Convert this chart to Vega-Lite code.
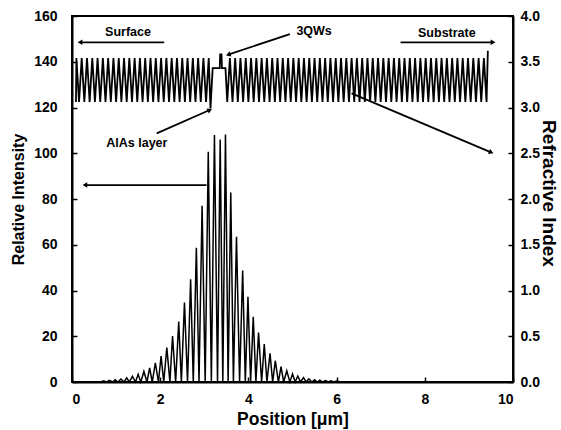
{
  "$schema": "https://vega.github.io/schema/vega-lite/v6.json",
  "width": 441,
  "height": 366,
  "autosize": {"type": "none"},
  "padding": {"left": 72, "top": 16, "right": 48, "bottom": 48},
  "background": "white",
  "config": {
    "view": {"stroke": "black", "strokeWidth": 2},
    "font": "Liberation Sans",
    "axis": {
      "grid": false,
      "domainColor": "black",
      "domainWidth": 2,
      "tickColor": "black",
      "tickWidth": 1.5,
      "tickSize": -5,
      "labelFont": "Liberation Sans",
      "labelFontWeight": "bold",
      "labelFontSize": 14,
      "labelColor": "black",
      "titleFont": "Liberation Sans",
      "titleFontWeight": "bold",
      "titleFontSize": 15.5,
      "titleColor": "black"
    }
  },
  "datasets": {
    "intensity": [
      {"x": 0, "I": 0}, {"x": 0.65, "I": 0},
      {"x": 0.72, "I": 0.5}, {"x": 0.78, "I": 0}, {"x": 0.85, "I": 0.7}, {"x": 0.92, "I": 0},
      {"x": 0.98, "I": 1.0}, {"x": 1.04, "I": 0}, {"x": 1.11, "I": 1.3}, {"x": 1.18, "I": 0},
      {"x": 1.24, "I": 1.8}, {"x": 1.30, "I": 0}, {"x": 1.37, "I": 2.5}, {"x": 1.44, "I": 0},
      {"x": 1.50, "I": 3.4}, {"x": 1.56, "I": 0}, {"x": 1.63, "I": 4.6}, {"x": 1.70, "I": 0},
      {"x": 1.76, "I": 6.2}, {"x": 1.82, "I": 0}, {"x": 1.89, "I": 8.4}, {"x": 1.96, "I": 0},
      {"x": 2.02, "I": 11.3}, {"x": 2.08, "I": 0}, {"x": 2.15, "I": 15.0}, {"x": 2.22, "I": 0},
      {"x": 2.28, "I": 20.1}, {"x": 2.35, "I": 0}, {"x": 2.42, "I": 26.4}, {"x": 2.48, "I": 0},
      {"x": 2.55, "I": 34.7}, {"x": 2.62, "I": 0}, {"x": 2.69, "I": 44.9}, {"x": 2.75, "I": 0},
      {"x": 2.82, "I": 58.7}, {"x": 2.88, "I": 0}, {"x": 2.95, "I": 77.0}, {"x": 3.02, "I": 0},
      {"x": 3.09, "I": 100.7}, {"x": 3.16, "I": 0}, {"x": 3.23, "I": 108.0}, {"x": 3.30, "I": 0},
      {"x": 3.36, "I": 106.0}, {"x": 3.42, "I": 0}, {"x": 3.48, "I": 108.2}, {"x": 3.54, "I": 0},
      {"x": 3.60, "I": 82.8}, {"x": 3.66, "I": 0}, {"x": 3.73, "I": 63.5}, {"x": 3.80, "I": 0},
      {"x": 3.87, "I": 48.7}, {"x": 3.93, "I": 0}, {"x": 3.99, "I": 37.3}, {"x": 4.05, "I": 0},
      {"x": 4.11, "I": 28.5}, {"x": 4.17, "I": 0}, {"x": 4.23, "I": 21.6}, {"x": 4.30, "I": 0},
      {"x": 4.36, "I": 16.6}, {"x": 4.42, "I": 0}, {"x": 4.49, "I": 12.5}, {"x": 4.55, "I": 0},
      {"x": 4.61, "I": 9.3}, {"x": 4.68, "I": 0}, {"x": 4.74, "I": 6.7}, {"x": 4.80, "I": 0},
      {"x": 4.87, "I": 4.9}, {"x": 4.94, "I": 0}, {"x": 5.00, "I": 3.5}, {"x": 5.06, "I": 0},
      {"x": 5.12, "I": 2.6}, {"x": 5.18, "I": 0}, {"x": 5.25, "I": 1.9}, {"x": 5.31, "I": 0},
      {"x": 5.37, "I": 1.4}, {"x": 5.44, "I": 0}, {"x": 5.50, "I": 1.0}, {"x": 5.56, "I": 0},
      {"x": 5.62, "I": 0.8}, {"x": 5.68, "I": 0}, {"x": 5.75, "I": 0.6}, {"x": 5.81, "I": 0},
      {"x": 5.87, "I": 0.5}, {"x": 5.94, "I": 0}, {"x": 6.00, "I": 0.4}, {"x": 6.1, "I": 0}
    ],
    "index": [
      {"x": 0.09, "n": 3.06}, {"x": 0.10, "n": 3.54}, {"x": 0.16, "n": 3.06}, {"x": 0.22, "n": 3.54},
      {"x": 0.28, "n": 3.06}, {"x": 0.34, "n": 3.54}, {"x": 0.40, "n": 3.06}, {"x": 0.46, "n": 3.54},
      {"x": 0.52, "n": 3.06}, {"x": 0.58, "n": 3.54}, {"x": 0.64, "n": 3.06}, {"x": 0.70, "n": 3.54},
      {"x": 0.76, "n": 3.06}, {"x": 0.82, "n": 3.54}, {"x": 0.88, "n": 3.06}, {"x": 0.94, "n": 3.54},
      {"x": 1.00, "n": 3.06}, {"x": 1.06, "n": 3.54}, {"x": 1.12, "n": 3.06}, {"x": 1.18, "n": 3.54},
      {"x": 1.24, "n": 3.06}, {"x": 1.30, "n": 3.54}, {"x": 1.36, "n": 3.06}, {"x": 1.42, "n": 3.54},
      {"x": 1.48, "n": 3.06}, {"x": 1.54, "n": 3.54}, {"x": 1.60, "n": 3.06}, {"x": 1.66, "n": 3.54},
      {"x": 1.72, "n": 3.06}, {"x": 1.78, "n": 3.54}, {"x": 1.84, "n": 3.06}, {"x": 1.90, "n": 3.54},
      {"x": 1.96, "n": 3.06}, {"x": 2.02, "n": 3.54}, {"x": 2.08, "n": 3.06}, {"x": 2.14, "n": 3.54},
      {"x": 2.20, "n": 3.06}, {"x": 2.26, "n": 3.54}, {"x": 2.32, "n": 3.06}, {"x": 2.38, "n": 3.54},
      {"x": 2.44, "n": 3.06}, {"x": 2.50, "n": 3.54}, {"x": 2.56, "n": 3.06}, {"x": 2.62, "n": 3.54},
      {"x": 2.68, "n": 3.06}, {"x": 2.74, "n": 3.54}, {"x": 2.80, "n": 3.06}, {"x": 2.86, "n": 3.54},
      {"x": 2.92, "n": 3.06}, {"x": 2.98, "n": 3.54}, {"x": 3.04, "n": 3.06}, {"x": 3.10, "n": 3.54},
      {"x": 3.14, "n": 2.99}, {"x": 3.19, "n": 3.43}, {"x": 3.35, "n": 3.43}, {"x": 3.36, "n": 3.58},
      {"x": 3.39, "n": 3.58}, {"x": 3.40, "n": 3.43}, {"x": 3.48, "n": 3.43}, {"x": 3.52, "n": 3.06},
      {"x": 3.58, "n": 3.54}, {"x": 3.64, "n": 3.06}, {"x": 3.70, "n": 3.54}, {"x": 3.76, "n": 3.06},
      {"x": 3.82, "n": 3.54}, {"x": 3.88, "n": 3.06}, {"x": 3.94, "n": 3.54}, {"x": 4.00, "n": 3.06},
      {"x": 4.06, "n": 3.54}, {"x": 4.12, "n": 3.06}, {"x": 4.18, "n": 3.54}, {"x": 4.24, "n": 3.06},
      {"x": 4.30, "n": 3.54}, {"x": 4.36, "n": 3.06}, {"x": 4.42, "n": 3.54}, {"x": 4.48, "n": 3.06},
      {"x": 4.54, "n": 3.54}, {"x": 4.60, "n": 3.06}, {"x": 4.66, "n": 3.54}, {"x": 4.72, "n": 3.06},
      {"x": 4.78, "n": 3.54}, {"x": 4.84, "n": 3.06}, {"x": 4.90, "n": 3.54}, {"x": 4.96, "n": 3.06},
      {"x": 5.02, "n": 3.54}, {"x": 5.08, "n": 3.06}, {"x": 5.14, "n": 3.54}, {"x": 5.20, "n": 3.06},
      {"x": 5.26, "n": 3.54}, {"x": 5.32, "n": 3.06}, {"x": 5.38, "n": 3.54}, {"x": 5.44, "n": 3.06},
      {"x": 5.50, "n": 3.54}, {"x": 5.56, "n": 3.06}, {"x": 5.62, "n": 3.54}, {"x": 5.68, "n": 3.06},
      {"x": 5.74, "n": 3.54}, {"x": 5.80, "n": 3.06}, {"x": 5.86, "n": 3.54}, {"x": 5.92, "n": 3.06},
      {"x": 5.98, "n": 3.54}, {"x": 6.04, "n": 3.06}, {"x": 6.10, "n": 3.54}, {"x": 6.16, "n": 3.06},
      {"x": 6.22, "n": 3.54}, {"x": 6.28, "n": 3.06}, {"x": 6.34, "n": 3.54}, {"x": 6.40, "n": 3.06},
      {"x": 6.46, "n": 3.54}, {"x": 6.52, "n": 3.06}, {"x": 6.58, "n": 3.54}, {"x": 6.64, "n": 3.06},
      {"x": 6.70, "n": 3.54}, {"x": 6.76, "n": 3.06}, {"x": 6.82, "n": 3.54}, {"x": 6.88, "n": 3.06},
      {"x": 6.94, "n": 3.54}, {"x": 7.00, "n": 3.06}, {"x": 7.06, "n": 3.54}, {"x": 7.12, "n": 3.06},
      {"x": 7.18, "n": 3.54}, {"x": 7.24, "n": 3.06}, {"x": 7.30, "n": 3.54}, {"x": 7.36, "n": 3.06},
      {"x": 7.42, "n": 3.54}, {"x": 7.48, "n": 3.06}, {"x": 7.54, "n": 3.54}, {"x": 7.60, "n": 3.06},
      {"x": 7.66, "n": 3.54}, {"x": 7.72, "n": 3.06}, {"x": 7.78, "n": 3.54}, {"x": 7.84, "n": 3.06},
      {"x": 7.90, "n": 3.54}, {"x": 7.96, "n": 3.06}, {"x": 8.02, "n": 3.54}, {"x": 8.08, "n": 3.06},
      {"x": 8.14, "n": 3.54}, {"x": 8.20, "n": 3.06}, {"x": 8.26, "n": 3.54}, {"x": 8.32, "n": 3.06},
      {"x": 8.38, "n": 3.54}, {"x": 8.44, "n": 3.06}, {"x": 8.50, "n": 3.54}, {"x": 8.56, "n": 3.06},
      {"x": 8.62, "n": 3.54}, {"x": 8.68, "n": 3.06}, {"x": 8.74, "n": 3.54}, {"x": 8.80, "n": 3.06},
      {"x": 8.86, "n": 3.54}, {"x": 8.92, "n": 3.06}, {"x": 8.98, "n": 3.54}, {"x": 9.04, "n": 3.06},
      {"x": 9.10, "n": 3.54}, {"x": 9.16, "n": 3.06}, {"x": 9.22, "n": 3.54}, {"x": 9.28, "n": 3.06},
      {"x": 9.34, "n": 3.54}, {"x": 9.40, "n": 3.06}, {"x": 9.43, "n": 3.62}
    ],
    "labels": [
      {"x": 1.27, "y": 153, "t": "Surface"},
      {"x": 8.5, "y": 152.7, "t": "Substrate"},
      {"x": 5.49, "y": 153.6, "t": "3QWs"},
      {"x": 1.47, "y": 104.6, "t": "AlAs layer"}
    ],
    "arrows": [
      {"x": 2.09, "y": 148.5, "x2": 0.2, "y2": 148.5, "a": 270},
      {"x": 7.45, "y": 148.5, "x2": 9.53, "y2": 148.5, "a": 90},
      {"x": 4.94, "y": 152.1, "x2": 3.56, "y2": 143.2, "a": 251},
      {"x": 1.92, "y": 108.7, "x2": 3.11, "y2": 118.8, "a": 66},
      {"x": 3.05, "y": 86.1, "x2": 0.31, "y2": 86.1, "a": 270},
      {"x": 6.34, "y": 126.2, "x2": 9.49, "y2": 100.5, "a": 113}
    ]
  },
  "layer": [
    {
      "data": {"name": "intensity"},
      "mark": {"type": "line", "color": "black", "strokeWidth": 1.5},
      "encoding": {
        "x": {"field": "x", "type": "quantitative", "scale": {"domain": [0, 10], "nice": false},
              "axis": {"values": [0, 2, 4, 6, 8, 10], "title": "Position [μm]", "titleFontSize": 17.5, "labelPadding": 15, "titlePadding": 4}},
        "y": {"field": "I", "type": "quantitative", "scale": {"domain": [0, 160], "nice": false},
              "axis": {"orient": "left", "values": [0, 20, 40, 60, 80, 100, 120, 140, 160], "title": "Relative Intensity", "titleFontSize": 16, "labelPadding": 20, "titlePadding": 7}},
        "order": {"value": null}
      }
    },
    {
      "data": {"name": "index"},
      "mark": {"type": "line", "color": "black", "strokeWidth": 1.8},
      "encoding": {
        "x": {"field": "x", "type": "quantitative"},
        "y": {"field": "n", "type": "quantitative", "scale": {"domain": [0, 4], "nice": false},
              "axis": {"orient": "right", "values": [0, 0.5, 1, 1.5, 2, 2.5, 3, 3.5, 4], "format": ".1f", "title": "Refractive Index", "titleFontSize": 19, "titleAngle": 90, "titleBaseline": "middle", "titleX": 35, "titleY": 177, "labelPadding": 12}},
        "order": {"value": null}
      }
    },
    {
      "data": {"name": "arrows"},
      "mark": {"type": "rule", "color": "black", "strokeWidth": 1.8},
      "encoding": {
        "x": {"field": "x", "type": "quantitative"},
        "y": {"field": "y", "type": "quantitative", "scale": {"domain": [0, 160], "nice": false}, "axis": null},
        "x2": {"field": "x2"},
        "y2": {"field": "y2"}
      }
    },
    {
      "data": {"name": "arrows"},
      "mark": {"type": "point", "shape": "triangle", "filled": true, "color": "black", "size": 30, "opacity": 1},
      "encoding": {
        "x": {"field": "x2", "type": "quantitative"},
        "y": {"field": "y2", "type": "quantitative", "scale": {"domain": [0, 160], "nice": false}, "axis": null},
        "angle": {"field": "a", "type": "quantitative", "scale": null}
      }
    },
    {
      "data": {"name": "labels"},
      "mark": {"type": "text", "font": "Liberation Sans", "fontWeight": "bold", "fontSize": 12.5, "color": "black"},
      "encoding": {
        "x": {"field": "x", "type": "quantitative"},
        "y": {"field": "y", "type": "quantitative", "scale": {"domain": [0, 160], "nice": false}, "axis": null},
        "text": {"field": "t"}
      }
    }
  ],
  "resolve": {"scale": {"y": "independent"}}
}
